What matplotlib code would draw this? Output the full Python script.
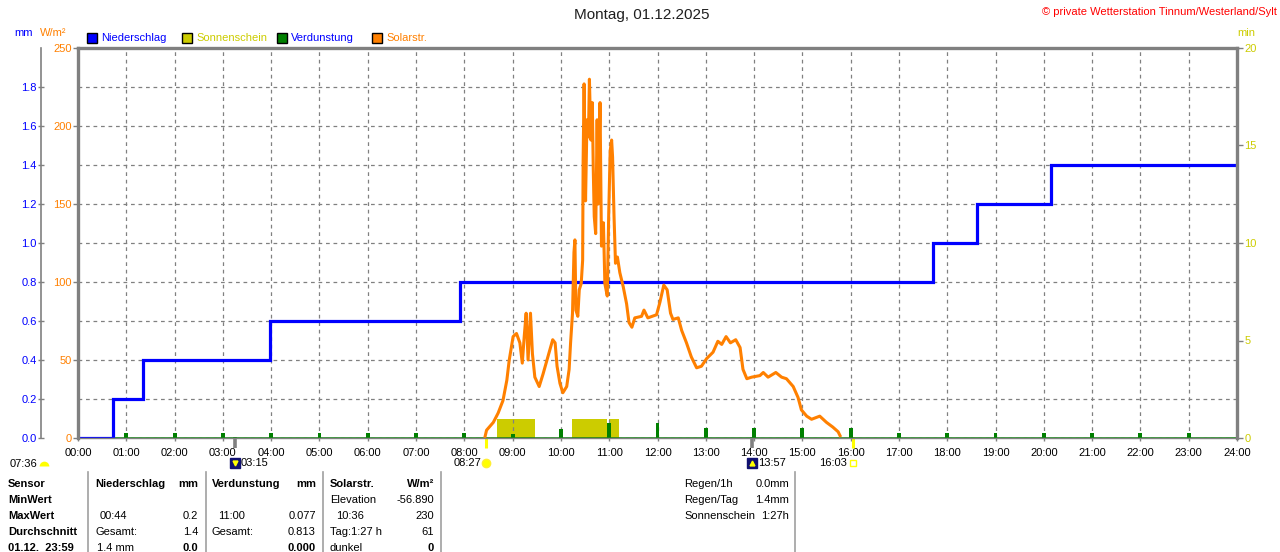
import matplotlib
matplotlib.use("Agg")
import matplotlib.pyplot as plt
import matplotlib.transforms as mtransforms
from matplotlib.patches import Rectangle
from matplotlib.lines import Line2D
from matplotlib.ticker import MultipleLocator

plt.rcParams['font.family'] = ['Liberation Sans', 'DejaVu Sans']
plt.rcParams['font.size'] = 8

W, H = 1280, 552

# --- data ---
hours = list(range(25))
hour_labels = [f"{h:02d}:00" for h in hours]

# cumulative rain (mm), step times in hours
rain_t = [0, 0.73, 1.35, 3.98, 7.91, 17.70, 18.62, 20.15, 24]
rain_mm = [0.0, 0.2, 0.4, 0.6, 0.8, 1.0, 1.2, 1.4, 1.4]

# evaporation per hour (mm)
evap_h = list(range(1, 24))
evap_mm = [0.024, 0.024, 0.024, 0.024, 0.024, 0.024, 0.024, 0.024,
           0.022, 0.048, 0.077, 0.075, 0.050, 0.050, 0.050, 0.050,
           0.024, 0.024, 0.024, 0.024, 0.024, 0.024, 0.024]

# sunshine blocks (min)
sun_start = [8.68, 10.23, 10.99]
sun_end = [9.46, 10.95, 11.20]
sun_min = [1.0, 1.0, 1.0]

# solar radiation (W/m2)
solar_t = [8.43, 8.46, 8.60, 8.70, 8.80, 8.88, 8.93, 9.01, 9.08, 9.15,
           9.20, 9.24, 9.28, 9.32, 9.37, 9.41, 9.46, 9.55, 9.63, 9.73,
           9.83, 9.88, 9.92, 9.98, 10.04, 10.12, 10.17, 10.20, 10.24, 10.27,
           10.29, 10.31, 10.35, 10.38, 10.42, 10.45, 10.46, 10.48, 10.51, 10.54,
           10.57, 10.59, 10.62, 10.65, 10.67, 10.69, 10.72, 10.75, 10.77, 10.81,
           10.84, 10.88, 10.91, 10.96, 10.99, 11.02, 11.05, 11.07, 11.10, 11.13,
           11.17, 11.22, 11.29, 11.36, 11.41, 11.47, 11.53, 11.67, 11.72, 11.80,
           11.98, 12.05, 12.13, 12.20, 12.27, 12.32, 12.43, 12.50, 12.60, 12.70,
           12.81, 12.91, 13.02, 13.15, 13.25, 13.33, 13.42, 13.51, 13.62, 13.71,
           13.77, 13.85, 13.95, 14.12, 14.19, 14.29, 14.45, 14.57, 14.67, 14.81,
           14.91, 14.98, 15.09, 15.19, 15.36, 15.50, 15.63, 15.74, 15.78]
solar_w = [1, 5, 10, 16, 24, 37, 50, 65, 67, 61,
           48, 65, 80, 50, 80, 54, 39, 33, 41, 52,
           63, 61, 46, 35, 29, 33, 44, 61, 80, 119,
           127, 82, 78, 95, 99, 114, 178, 227, 152, 204,
           193, 230, 191, 215, 172, 142, 131, 204, 150, 215,
           123, 138, 99, 91, 144, 184, 191, 180, 142, 112,
           116, 106, 97, 86, 74, 71, 77, 78, 82, 77,
           79, 87, 98, 95, 80, 76, 77, 69, 61, 52,
           45, 46, 51, 55, 62, 60, 65, 61, 63, 58,
           44, 38, 39, 40, 42, 39, 42, 39, 38, 33,
           26, 18, 14, 12, 14, 10, 7, 4, 1.5]

mm_ticks = [0.0, 0.2, 0.4, 0.6, 0.8, 1.0, 1.2, 1.4, 1.6, 1.8]
w_ticks = [0, 50, 100, 150, 200, 250]
min_ticks = [0, 5, 10, 15, 20]

# moon set, sun rise, moon rise, sun set
event_t = [3.25, 8.45, 13.95, 16.05]
event_lbl = ["03:15", "08:27", "13:57", "16:03"]

BLUE = '#0000ff'
YEL = '#cccc00'
GREEN = '#008000'
ORANGE = '#ff8000'
GREY = '#808080'


def fx(x):
    return x / W


def fy(y):
    return 1 - y / H


fig = plt.figure(figsize=(W / 100, H / 100), dpi=100)
ax_min = fig.add_axes([fx(78), fy(438), fx(1237) - fx(78), (438 - 48) / H])
ax_mm = ax_min.twinx()
ax = ax_min.twinx()
ax_min.set_zorder(1)
ax_mm.set_zorder(2)
ax.set_zorder(3)
ax_mm.patch.set_visible(False)
ax.patch.set_visible(False)

ax_min.set_xlim(0, 24)
ax_min.set_ylim(0, 20)
ax_mm.set_ylim(0, 2.0)
ax.set_ylim(0, 250)

# grid (0.2 mm == 2 min steps) on the bottom axes
ax_min.yaxis.set_major_locator(MultipleLocator(5))
ax_min.yaxis.set_minor_locator(MultipleLocator(2))
ax_min.yaxis.remove_overlapping_locs = False
ax_min.grid(True, which='minor', axis='y', color=GREY, ls=(0, (3, 3)), lw=0.9)
ax_min.grid(True, which='major', axis='x', color=GREY, ls=(0, (3, 3)), lw=0.9)

# sunshine
ax_min.bar(sun_start, sun_min, width=[e - s for s, e in zip(sun_start, sun_end)],
           align='edge', color=YEL, lw=0)

# evaporation + rain
ax_mm.axhline(0, color=GREEN, lw=1.8)
ax_mm.bar(evap_h, evap_mm, width=0.08, color=GREEN, lw=0)
ax_mm.plot(rain_t, rain_mm, drawstyle='steps-post', color=BLUE, lw=2.3,
           solid_joinstyle='miter')

# solar
ax.plot(solar_t, solar_w, color=ORANGE, lw=2.2)

# axes styling
for a in (ax_min, ax_mm):
    for s in a.spines.values():
        s.set_visible(False)
for side in ('left', 'right', 'top'):
    ax.spines[side].set_color(GREY)
    ax.spines[side].set_linewidth(2.4)
ax.spines['bottom'].set_color(GREY)
ax.spines['bottom'].set_linewidth(1.0)

ax_min.set_xticks(hours, hour_labels)
ax_min.tick_params(axis='x', length=2.5, width=1, color=GREY, pad=5, labelsize=8)
ax_min.yaxis.tick_right()
ax_min.set_yticks(min_ticks, [str(v) for v in min_ticks])
ax_min.tick_params(axis='y', which='major', length=4.3, width=1, color=GREY,
                   labelcolor=YEL, pad=1, labelsize=8)
ax_min.tick_params(axis='y', which='minor', length=0)

ax.yaxis.tick_left()
ax.set_yticks(w_ticks, [str(v) for v in w_ticks])
ax.tick_params(axis='y', length=3.6, width=1, color=GREY, labelcolor=ORANGE,
               pad=1, labelsize=8)

ax_mm.yaxis.tick_left()
ax_mm.spines['left'].set_visible(True)
ax_mm.spines['left'].set_position(('outward', 26.6))
ax_mm.spines['left'].set_color(GREY)
ax_mm.spines['left'].set_linewidth(1.2)
ax_mm.set_yticks(mm_ticks, [f"{v:.1f}" for v in mm_ticks])
ax_mm.tick_params(axis='y', direction='inout', length=5, width=1, color=GREY,
                  labelcolor=BLUE, pad=0.5, labelsize=8)

# sun / moon event marks under the time axis
trans = mtransforms.blended_transform_factory(ax_min.transData, ax_min.transAxes)
y_lbl = -(463 - 438) / 390
for t, lbl in zip(event_t, event_lbl):
    is_sun = lbl in ("08:27", "16:03")
    ax_min.plot([t, t], [0.003, -0.025], transform=trans, clip_on=False,
                color='#ffff00' if is_sun else GREY, lw=2.2 if is_sun else 2.6,
                solid_capstyle='butt', zorder=5)
    if lbl == "08:27":
        ax_min.plot([t], [y_lbl], transform=trans, clip_on=False, marker='o',
                    ms=6, color='#ffff00', mec='#ffee33', zorder=5)
        ax_min.annotate(lbl, (t, y_lbl), xycoords=trans, xytext=(-5, 0),
                        textcoords='offset pixels', ha='right', va='center')
    elif lbl == "16:03":
        ax_min.plot([t], [y_lbl], transform=trans, clip_on=False, marker='s',
                    ms=5, mfc='none', mec='#ffff00', mew=1, zorder=5)
        ax_min.annotate(lbl, (t, y_lbl), xycoords=trans, xytext=(-6, 0),
                        textcoords='offset pixels', ha='right', va='center')
    else:
        ax_min.plot([t], [y_lbl], transform=trans, clip_on=False, marker='s',
                    ms=7.5, color='#101070', zorder=5)
        ax_min.plot([t], [y_lbl], transform=trans, clip_on=False,
                    marker='v' if lbl == "03:15" else '^', ms=3.5,
                    color='#ffff00', zorder=6)
        ax_min.annotate(lbl, (t, y_lbl), xycoords=trans, xytext=(6, 0),
                        textcoords='offset pixels', ha='left', va='center')

fig.text(fx(10), fy(464), "07:36", ha='left', va='center')
fig.add_artist(Line2D([fx(44)], [fy(466)], marker='o', ms=7, fillstyle='top',
                      mfc='#ffff00', mec='none', transform=fig.transFigure))

# title and headers
fig.text(fx(642), fy(15), "Montag, 01.12.2025", ha='center', va='center',
         fontsize=11, color='#202020')
fig.text(fx(1277), fy(12), "\u00a9 private Wetterstation Tinnum/Westerland/Sylt",
         ha='right', va='center', color='#ff0000')
fig.text(fx(14), fy(33), "mm", color=BLUE, va='center')
fig.text(fx(40), fy(33), "W/m\u00b2", color=ORANGE, va='center')
fig.text(fx(1237), fy(33), "min", color=YEL, va='center')

legend_items = [("Niederschlag", BLUE, BLUE), ("Sonnenschein", YEL, YEL),
                ("Verdunstung", GREEN, BLUE), ("Solarstr.", ORANGE, ORANGE)]
for i, (name, box_c, txt_c) in enumerate(legend_items):
    x0 = 87 + 95 * i
    fig.add_artist(Rectangle((fx(x0), fy(43)), 10 / W, 10 / H, facecolor=box_c,
                             edgecolor='black', lw=1, transform=fig.transFigure))
    fig.text(fx(x0 + 14), fy(38), name, color=txt_c, va='center')

# bottom table
rows = [484, 500, 516, 532, 548]
table = [
    (8, 0, "Sensor", 'left', True), (8, 1, "MinWert", 'left', True),
    (8, 2, "MaxWert", 'left', True), (8, 3, "Durchschnitt", 'left', True),
    (8, 4, "01.12.  23:59", 'left', True),
    (95, 0, "Niederschlag", 'left', True), (198, 0, "mm", 'right', True),
    (100, 2, "00:44", 'left', False), (198, 2, "0.2", 'right', False),
    (95, 3, "Gesamt:", 'left', False), (198, 3, "1.4", 'right', False),
    (97, 4, "1.4 mm", 'left', False), (198, 4, "0.0", 'right', True),
    (212, 0, "Verdunstung", 'left', True), (316, 0, "mm", 'right', True),
    (218, 2, "11:00", 'left', False), (316, 2, "0.077", 'right', False),
    (212, 3, "Gesamt:", 'left', False), (316, 3, "0.813", 'right', False),
    (316, 4, "0.000", 'right', True),
    (330, 0, "Solarstr.", 'left', True), (434, 0, "W/m\u00b2", 'right', True),
    (330, 1, "Elevation", 'left', False), (434, 1, "-56.890", 'right', False),
    (336, 2, "10:36", 'left', False), (434, 2, "230", 'right', False),
    (330, 3, "Tag:1:27 h", 'left', False), (434, 3, "61", 'right', False),
    (330, 4, "dunkel", 'left', False), (434, 4, "0", 'right', True),
    (684, 0, "Regen/1h", 'left', False), (789, 0, "0.0mm", 'right', False),
    (684, 1, "Regen/Tag", 'left', False), (789, 1, "1.4mm", 'right', False),
    (684, 2, "Sonnenschein", 'left', False), (789, 2, "1:27h", 'right', False),
]
for x, r, s, ha, bold in table:
    fig.text(fx(x), fy(rows[r]), s, ha=ha, va='center',
             fontweight='bold' if bold else 'normal', color='black')

for xs in (88, 206, 323, 441, 795):
    fig.add_artist(Line2D([fx(xs), fx(xs)], [fy(472), fy(552)], color='#a0a0a0',
                          lw=1.2, transform=fig.transFigure))

fig.savefig("out.png", dpi=100, facecolor='white')
